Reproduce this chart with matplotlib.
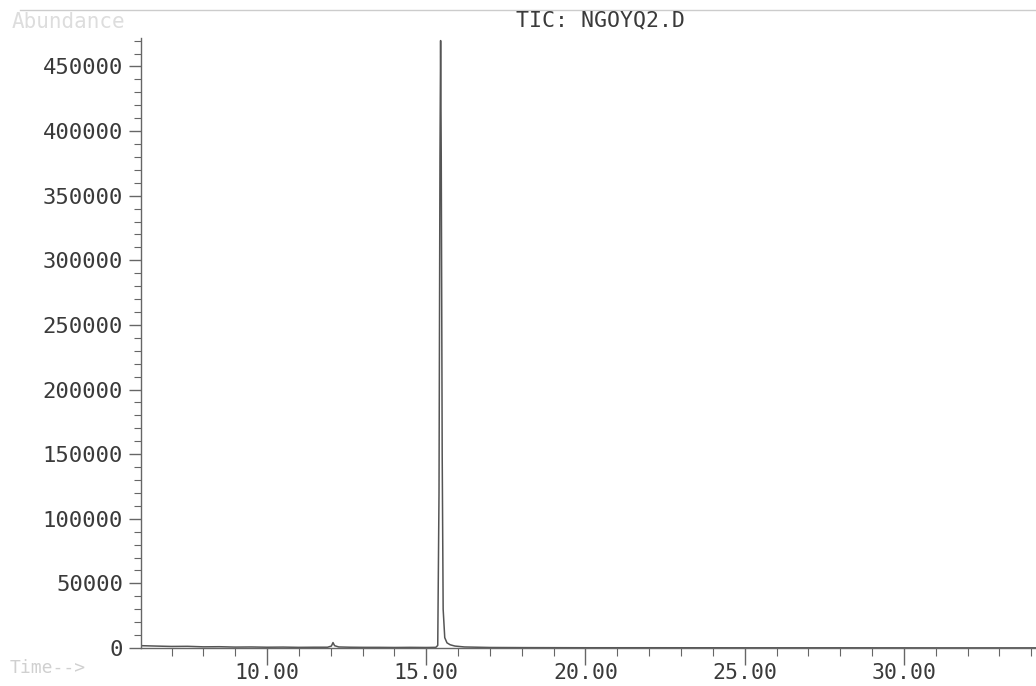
import matplotlib
matplotlib.use("Agg")
import matplotlib.pyplot as plt
from matplotlib.ticker import MultipleLocator, FixedLocator
from matplotlib.lines import Line2D

# Chromatogram trace (retention time in min, abundance)
times = [6.04, 6.5, 7.0, 7.5, 8.0, 8.5, 9.0, 9.5, 10.0, 10.5, 11.0, 11.5, 11.9,
         12.02, 12.07, 12.12, 12.25, 12.6, 13.0, 13.5, 14.0, 14.5, 15.0, 15.3,
         15.36, 15.40, 15.43, 15.45, 15.47, 15.50, 15.53, 15.58, 15.65, 15.75,
         15.9, 16.2, 17.0, 18.0, 20.0, 22.0, 25.0, 28.0, 31.0, 34.2]
abundance = [1800, 1500, 1200, 1300, 900, 1000, 700, 800, 600, 700, 500, 600, 600,
             1500, 4200, 1800, 800, 600, 500, 500, 400, 500, 400, 500,
             2000, 120000, 380000, 470000, 380000, 150000, 30000, 8000, 4000, 2500,
             1500, 800, 400, 300, 200, 200, 150, 150, 100, 100]

y_ticks = [0, 50000, 100000, 150000, 200000, 250000, 300000, 350000, 400000, 450000]
x_ticks = [10, 15, 20, 25, 30]
x_labels = ["10.00", "15.00", "20.00", "25.00", "30.00"]

W, H = 1036, 686
fig = plt.figure(figsize=(W / 100, H / 100), dpi=100)
ax = fig.add_axes([141 / W, 1 - 648 / H, 1 - 141 / W, (648 - 38) / H])

ink = "#3a3a3a"
mono = "DejaVu Sans Mono"

ax.plot(times, abundance, color="#555555", lw=1.1)
ax.set_xlim(6.04, 34.15)
ax.set_ylim(0, 472000)

for s in ["top", "right"]:
    ax.spines[s].set_visible(False)
for s in ["left", "bottom"]:
    ax.spines[s].set_color("#666666")
    ax.spines[s].set_linewidth(1.0)

ax.yaxis.set_major_locator(FixedLocator(y_ticks))
ax.yaxis.set_minor_locator(MultipleLocator(10000))
ax.set_yticklabels([str(v) for v in y_ticks])
ax.xaxis.set_major_locator(FixedLocator(x_ticks))
ax.xaxis.set_minor_locator(MultipleLocator(1))
ax.set_xticklabels(x_labels)

ax.tick_params(axis="y", which="major", length=9, width=1.0, color="#666666",
               labelsize=16, labelcolor=ink, pad=4)
ax.tick_params(axis="y", which="minor", length=5, width=0.8, color="#666666")
ax.tick_params(axis="x", which="major", length=12, width=1.0, color="#666666",
               labelsize=15.5, labelcolor=ink, pad=-1)
ax.tick_params(axis="x", which="minor", length=6, width=0.8, color="#666666")
for lab in ax.get_xticklabels() + ax.get_yticklabels():
    lab.set_family(mono)

fig.text(600 / W, 1 - 20 / H, "TIC: NGOYQ2.D", ha="center", va="center",
         fontsize=15.5, family=mono, color=ink)
fig.text(12 / W, 1 - 22 / H, "Abundance", ha="left", va="center",
         fontsize=15, family=mono, color="#dddddd")
fig.text(10 / W, 1 - 668 / H, "Time-->", ha="left", va="center",
         fontsize=13, family=mono, color="#d0d0d0")
fig.add_artist(Line2D([20 / W, 1.0], [1 - 10 / H, 1 - 10 / H],
                      transform=fig.transFigure, color="#cccccc", lw=1.0))

fig.savefig("out.png", dpi=100)
